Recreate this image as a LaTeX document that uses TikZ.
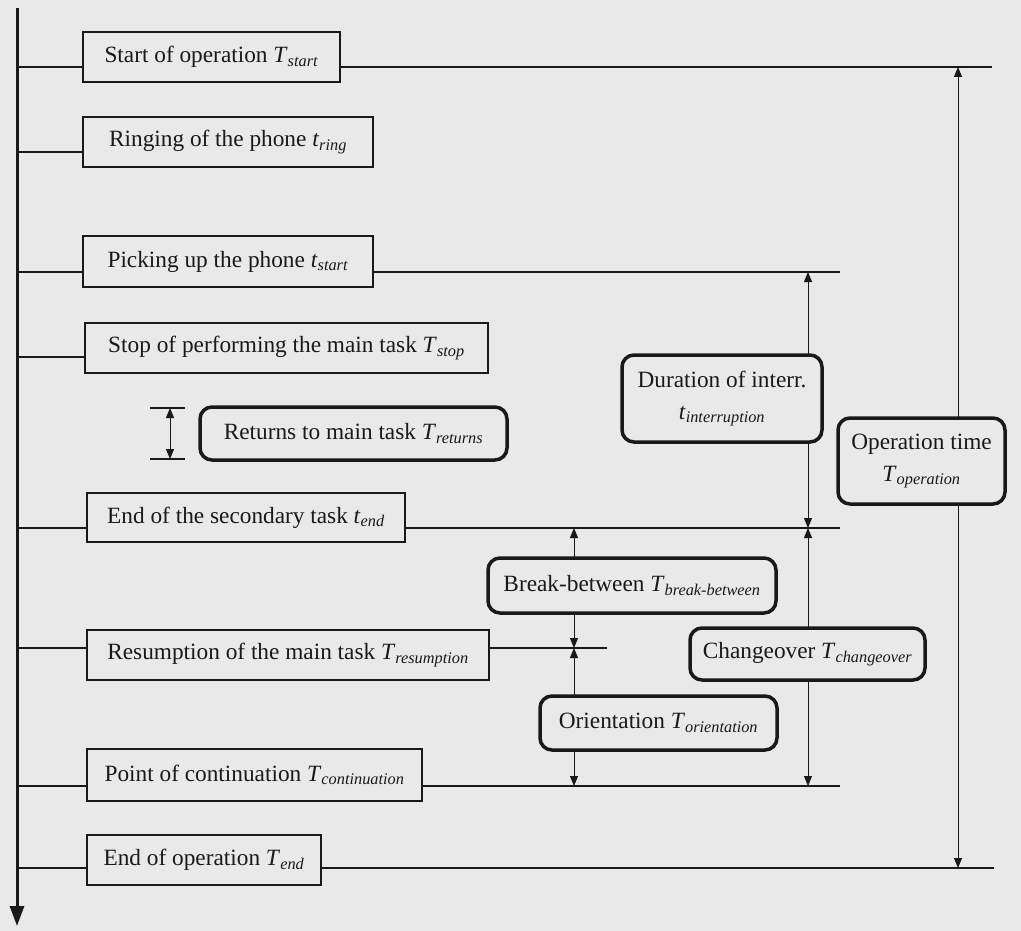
\documentclass[tikz,border=0pt]{standalone}
\usepackage{fontspec}
\setmainfont{Liberation Serif}
\usetikzlibrary{arrows.meta}
\definecolor{bg}{RGB}{233,233,233}
\definecolor{ink}{RGB}{25,25,25}
\newcommand{\subT}[2]{\textit{#1}\textsubscript{\textit{#2}}}
\begin{document}
\begin{tikzpicture}[x=1pt,y=-1pt,
 every node/.style={font=\fontsize{23.3}{32}\selectfont, text=ink, inner sep=0pt},
 sqbox/.style={draw=ink, line width=1.2pt, fill=bg},
 rbox/.style={draw=ink, line width=3.5pt, fill=bg, rounded corners=12pt, align=center},
 tline/.style={draw=ink, line width=1.5pt},
 dim/.style={draw=ink, line width=1pt, {Triangle[length=10pt,width=8pt]}-{Triangle[length=10pt,width=8pt]}},
]
\fill[bg] (0,0) rectangle (1021,931);
\useasboundingbox (0,0) rectangle (1021,931);

% axis and row coordinates
\coordinate (axtop) at (17,8);
\coordinate (axbot) at (17,926);
\coordinate (a1) at (17,67);
\coordinate (a2) at (17,152);
\coordinate (a3) at (17,272);
\coordinate (a4) at (17,357);
\coordinate (a6) at (17,528);
\coordinate (a7) at (17,648);
\coordinate (a8) at (17,786);
\coordinate (a9) at (17,868);
\coordinate (e1) at (992,67);
\coordinate (e3) at (840,272);
\coordinate (e6) at (840,528);
\coordinate (e7) at (607,648);
\coordinate (e8) at (840,786);
\coordinate (e9) at (994,868);

% dimension arrows
\coordinate (op1) at (958,67);
\coordinate (op2) at (958,868);
\coordinate (du1) at (808,272);
\coordinate (du2) at (808,528);
\coordinate (ch2) at (808,786);
\coordinate (br1) at (574,528);
\coordinate (br2) at (574,648);
\coordinate (or2) at (574,786);
\coordinate (rt1) at (170,408);
\coordinate (rt2) at (170,459);
\coordinate (rt1l) at (150,408);
\coordinate (rt1r) at (185,408);
\coordinate (rt2l) at (150,459);
\coordinate (rt2r) at (185,459);

\draw[dim] (op1) -- (op2);
\draw[dim] (du1) -- (du2);
\draw[dim] (du2) -- (ch2);
\draw[dim] (br1) -- (br2);
\draw[dim] (br2) -- (or2);
\draw[dim] (rt1) -- (rt2);
\draw[tline] (rt1l) -- (rt1r);
\draw[tline] (rt2l) -- (rt2r);

% event boxes
\node[sqbox, minimum width=257pt, minimum height=50pt] (b1) at (211.5,57) {Start of operation \subT{T}{start}};
\node[sqbox, minimum width=290pt, minimum height=50pt] (b2) at (228,142) {Ringing of the phone \subT{t}{ring}};
\node[sqbox, minimum width=290pt, minimum height=51pt] (b3) at (228,261.5) {Picking up the phone \subT{t}{start}};
\node[sqbox, minimum width=403pt, minimum height=50pt] (b4) at (286.5,348) {Stop of performing the main task \subT{T}{stop}};
\node[sqbox, minimum width=318pt, minimum height=49pt] (b6) at (246,517.5) {End of the secondary task \subT{t}{end}};
\node[sqbox, minimum width=402pt, minimum height=50pt] (b7) at (288,655) {Resumption of the main task \subT{T}{resumption}};
\node[sqbox, minimum width=335pt, minimum height=52pt] (b8) at (254.5,775) {Point of continuation \subT{T}{continuation}};
\node[sqbox, minimum width=234pt, minimum height=50pt] (b9) at (204,860) {End of operation \subT{T}{end}};

% duration boxes
\node[rbox, minimum width=307pt, minimum height=53pt] (ret) at (353.5,433.5) {Returns to main task \subT{T}{returns}};
\node[rbox, minimum width=200pt, minimum height=87pt] (dur) at (722,398.5) {Duration of interr.\\\subT{t}{interruption}};
\node[rbox, minimum width=167pt, minimum height=86pt] (opt) at (921.5,461) {Operation time\\\subT{T}{operation}};
\node[rbox, minimum width=288pt, minimum height=55pt] (brk) at (632,585.5) {Break-between \subT{T}{break-between}};
\node[rbox, minimum width=235pt, minimum height=52pt] (chg) at (807.5,654) {Changeover \subT{T}{changeover}};
\node[rbox, minimum width=237pt, minimum height=54pt] (ori) at (658.5,723) {Orientation \subT{T}{orientation}};

% row lines
\draw[tline] (a1) -- (b1.west |- a1);
\draw[tline] (b1.east |- a1) -- (e1);
\draw[tline] (a2) -- (b2.west |- a2);
\draw[tline] (a3) -- (b3.west |- a3);
\draw[tline] (b3.east |- a3) -- (e3);
\draw[tline] (a4) -- (b4.west |- a4);
\draw[tline] (a6) -- (b6.west |- a6);
\draw[tline] (b6.east |- a6) -- (e6);
\draw[tline] (a7) -- (b7.west |- a7);
\draw[tline] (b7.east |- a7) -- (e7);
\draw[tline] (a8) -- (b8.west |- a8);
\draw[tline] (b8.east |- a8) -- (e8);
\draw[tline] (a9) -- (b9.west |- a9);
\draw[tline] (b9.east |- a9) -- (e9);

% time axis
\draw[draw=ink, line width=3pt, -{Triangle[length=20pt,width=14pt]}] (axtop) -- (axbot);
\end{tikzpicture}
\end{document}
